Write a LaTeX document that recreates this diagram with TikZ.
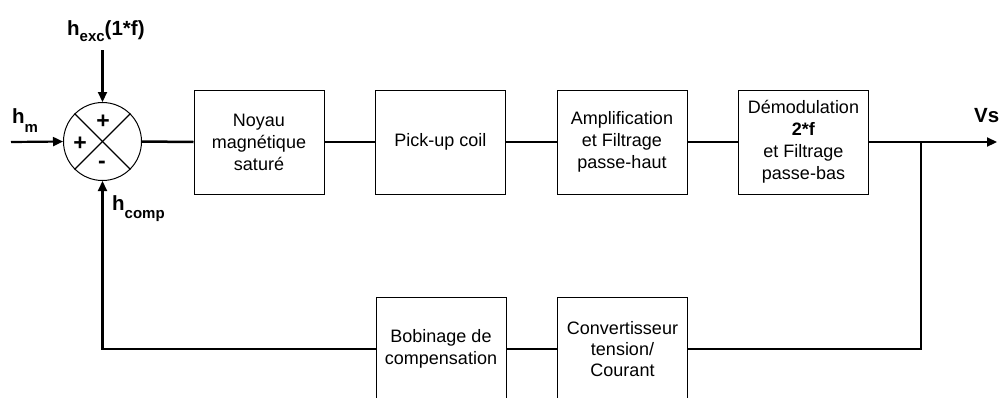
\documentclass[tikz,border=0pt]{standalone}
\usepackage{fontspec}
\setmainfont{Liberation Sans}
\usetikzlibrary{arrows.meta}
\newcommand\hsb[2]{\textbf{h}\raisebox{-#2}{\fontsize{15}{15}\selectfont\bfseries #1}}
\begin{document}
\begin{tikzpicture}[x=1pt,y=-1pt,
  blk/.style={draw, line width=1pt, minimum width=130pt, minimum height=104pt,
    inner sep=2pt, align=center, font=\fontsize{18}{22}\selectfont},
  wire/.style={line width=2.5pt},
  arr/.style={line width=2.2pt, -{Triangle[length=10pt,width=9pt]}},
  lbl/.style={inner sep=0pt, anchor=base west, font=\fontsize{20.5}{22}\selectfont\bfseries},
  sgn/.style={inner sep=0pt, font=\fontsize{23}{23}\selectfont\bfseries}]
\useasboundingbox (0,0) rectangle (1005,397);
\clip (0,0) rectangle (1005,397);
\fill[white] (0,0) rectangle (1005,397);
% summing junction
\node[circle, draw, line width=1pt, minimum size=78pt, inner sep=0pt] (sum) at (102.5,141.5) {};
\draw[line width=1.3pt] (sum.north west) -- (sum.south east);
\draw[line width=1.3pt] (sum.north east) -- (sum.south west);
\node[sgn] (pt) at (103,122) {+};
\node[sgn] (pl) at (80,144) {+};
\node[sgn] (mb) at (102,165) {-};
% blocks
\node[blk] (b1) at (259,142) {Noyau\\magnétique\\saturé};
\node[blk] (b2) at (440.5,142) {Pick-up coil};
\node[blk] (b3) at (622,142) {Amplification\\et Filtrage\\passe-haut};
\node[blk] (b4) at (803.5,142) {Démodulation\\\textbf{2*f}\\et Filtrage\\passe-bas};
\node[blk] (b5) at (441,349) {Bobinage de\\compensation};
\node[blk, font=\fontsize{18}{21}\selectfont] (b6) at (622.5,349) {Convertisseur\\tension/\\Courant};
% coordinates
\coordinate (hm) at (11,142);
\coordinate (exc) at (102.5,50);
\coordinate (j) at (921,142);
\coordinate (jb) at (921,349);
\coordinate (fb) at (102.5,349);
\coordinate (vs) at (997,142);
% labels
\node[lbl] (lhm) at (12,123) {\hsb{m}{9pt}};
\node[lbl] (lexc) at (67,35) {\hsb{exc}{6pt}(1*f)};
\node[lbl] (lcomp) at (112,210) {\hsb{comp}{8pt}};
\node[lbl] (lvs) at (974,122) {Vs};
% connectors
\draw[arr] (hm) -- (sum.west);
\draw[arr] (exc) -- (sum.north);
\draw[wire] (sum.east) -- (b1.west);
\draw[wire] (b1.east) -- (b2.west);
\draw[wire] (b2.east) -- (b3.west);
\draw[wire] (b3.east) -- (b4.west);
\draw[arr] (b4.east) -- (vs);
\draw[wire] (j) -- (jb) -- (b6.east);
\draw[wire] (b6.west) -- (b5.east);
\draw[arr] (b5.west) -- (fb) -- (sum.south);
\end{tikzpicture}
\end{document}
